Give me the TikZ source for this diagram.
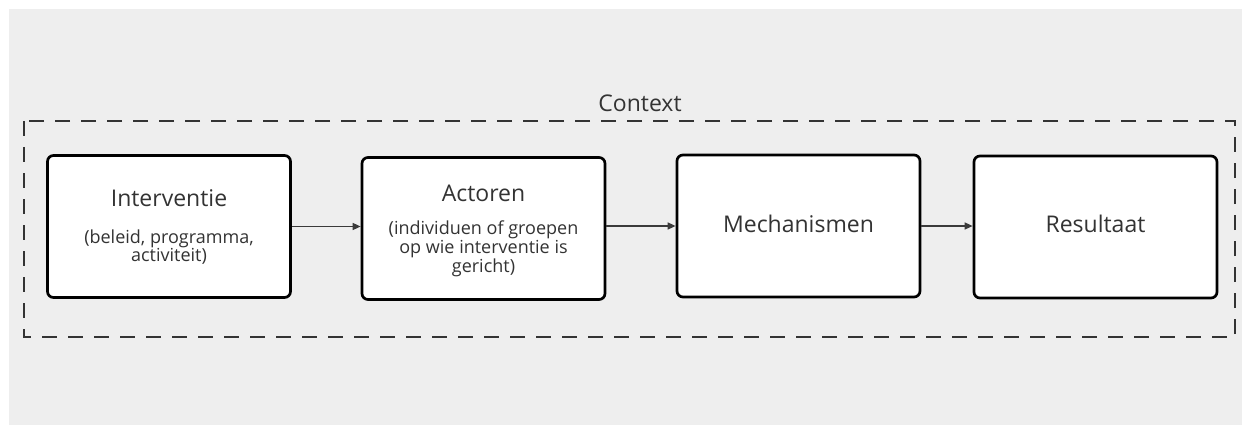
\documentclass[tikz,border=0pt]{standalone}
\usepackage{fontspec}
\setmainfont{Open Sans}
\usetikzlibrary{arrows.meta}
\definecolor{panel}{HTML}{EEEEEE}
\definecolor{ink}{HTML}{333333}
\definecolor{wire}{HTML}{3A3A3A}
\tikzset{
  stage/.style={draw=black, fill=white, line width=2.7pt, rounded corners=6pt,
    minimum width=243pt, minimum height=142pt, inner sep=0pt},
  title/.style={text=ink, font=\fontsize{23}{26}\selectfont, inner sep=0pt},
  note/.style={text=ink, font=\fontsize{18}{17.5}\selectfont, align=center, inner sep=0pt},
  flow/.style={draw=wire, line width=1.4pt, -{Triangle[length=8pt,width=7pt]}},
  frame/.style={draw=ink, line width=1.8pt, dash pattern=on 15pt off 11pt}
}
\begin{document}
\begin{tikzpicture}[x=1pt,y=-1pt]
  \useasboundingbox (0,0) rectangle (1242,425);
  % grey panel
  \fill[panel] (9,9) rectangle (1242,425);
  % context frame
  \draw[frame] (24,121) rectangle (1235,337);
  \node[title] (ctx) at (640,103) {Context};
  % stages
  \node[stage] (s1) at (169,226.5) {};
  \node[stage] (s2) at (483.5,228.5) {};
  \node[stage] (s3) at (798.5,226) {};
  \node[stage] (s4) at (1095.5,227) {};
  % labels
  \node[title] (t1) at (169,198) {Interventie};
  \node[note] (n1) at (169,247) {(beleid, programma,\\activiteit)};
  \node[title] (t2) at (483.5,193) {Actoren};
  \node[note] (n2) at (483.5,249) {(individuen of groepen\\op wie interventie is\\gericht)};
  \node[title] (t3) at (798.5,224) {Mechanismen};
  \node[title] (t4) at (1095.5,224) {Resultaat};
  % connectors
  \draw[flow] (s1.east) -- (s2.west |- s1.east);
  \draw[flow] (s2.east |- s3.west) -- (s3.west);
  \draw[flow] (s3.east) -- (s4.west |- s3.east);
\end{tikzpicture}
\end{document}
